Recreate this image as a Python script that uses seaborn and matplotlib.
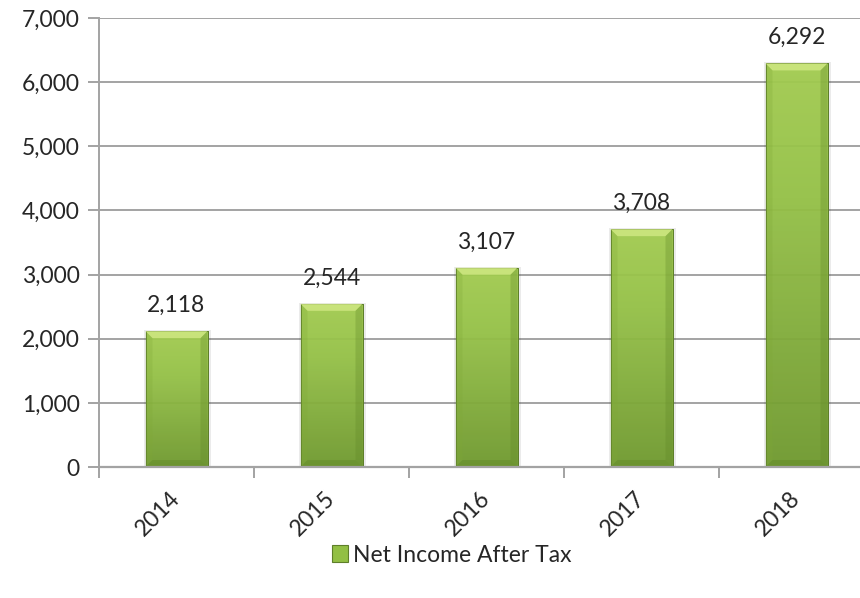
import numpy as np
import pandas as pd
import matplotlib
matplotlib.use("Agg")
import matplotlib.pyplot as plt
import seaborn as sns
from matplotlib.patches import Polygon, Patch
from matplotlib.colors import LinearSegmentedColormap
from matplotlib.ticker import FuncFormatter, FixedLocator

years = ["2014", "2015", "2016", "2017", "2018"]
net_income = [2118, 2544, 3107, 3708, 6292]
series_name = "Net Income After Tax"
y_ticks = [0, 1000, 2000, 3000, 4000, 5000, 6000, 7000]

sns.set_theme(style="white")
plt.rcParams["font.family"] = ["Lato", "DejaVu Sans"]

text_color = "#262626"
grid_color = "#a3a3a3"
bar_green = "#8cb843"
fs = 16.5

df = pd.DataFrame({"Year": years, series_name: net_income})

fig = plt.figure(figsize=(8.6, 5.98), dpi=100)
ax = fig.add_axes([99 / 860, 1 - 467 / 598, 775 / 860, 449 / 598])

sns.barplot(data=df, x="Year", y=series_name, width=0.4, color=bar_green,
            saturation=1, ax=ax, zorder=3)

ax.set_xlim(-0.5, 4.5)
ax.set_ylim(0, 7000)
ax.set_xlabel("")
ax.set_ylabel("")

# vertical green gradient inside each bar, plus soft bevelled edges
grad_cmap = LinearSegmentedColormap.from_list(
    "bar_grad", ["#6f992e", "#82ad3b", "#95c147", "#a2cc50"])
grad = np.linspace(0, 1, 256).reshape(-1, 1)
px_x = 1 / 155.0
px_y = 7000 / 449.0
for patch in ax.patches:
    x0, y0 = patch.get_x(), patch.get_y()
    w, h = patch.get_width(), patch.get_height()
    x1, y1 = x0 + w, y0 + h
    patch.set_facecolor("none")
    patch.set_edgecolor("#5e7f2a")
    patch.set_linewidth(0.7)
    # soft shadow
    shadow = Polygon([(x0 - 2 * px_x, y0), (x1 + 3 * px_x, y0),
                      (x1 + 3 * px_x, y1 + 1 * px_y), (x0 - 2 * px_x, y1 + 1 * px_y)],
                     closed=True, facecolor="#000000", alpha=0.08,
                     edgecolor="none", zorder=2)
    ax.add_patch(shadow)
    im = ax.imshow(grad, cmap=grad_cmap, aspect="auto", origin="lower",
                   extent=(x0, x1, y0, y1), zorder=3, alpha=0.95,
                   interpolation="bicubic")
    im.set_clip_path(patch)
    bx, by = 7 * px_x, 7 * px_y
    top = Polygon([(x0, y1), (x1, y1), (x1 - bx, y1 - by), (x0 + bx, y1 - by)],
                  closed=True, facecolor="#d2e985", edgecolor="none",
                  alpha=0.8, zorder=4)
    left = Polygon([(x0, y1), (x0 + bx, y1 - by), (x0 + bx, y0 + by), (x0, y0)],
                   closed=True, facecolor="#7fa836", edgecolor="none",
                   alpha=0.25, zorder=4)
    right = Polygon([(x1, y1), (x1 - bx, y1 - by), (x1 - bx, y0 + by), (x1, y0)],
                    closed=True, facecolor="#5f8626", edgecolor="none",
                    alpha=0.3, zorder=4)
    bottom = Polygon([(x0, y0), (x0 + bx, y0 + by), (x1 - bx, y0 + by), (x1, y0)],
                     closed=True, facecolor="#5f8626", edgecolor="none",
                     alpha=0.4, zorder=4)
    for p in (top, left, right, bottom):
        ax.add_patch(p)
    ax.add_patch(patch)

# value labels above the bars
for i, v in enumerate(net_income):
    ax.annotate(f"{v:,}", xy=(i, v), xytext=(0, 11), textcoords="offset points",
                ha="center", va="bottom", fontsize=fs, color=text_color,
                zorder=6)

# y axis: grid and labels
ax.yaxis.set_major_locator(FixedLocator(y_ticks))
ax.yaxis.set_major_formatter(FuncFormatter(lambda v, _: f"{int(v):,}"))
ax.grid(axis="y", color=grid_color, linewidth=1.4, zorder=1)
ax.grid(axis="x", visible=False)
ax.set_axisbelow(True)

for side in ("top", "right", "bottom"):
    ax.spines[side].set_visible(False)
ax.spines["left"].set_color(grid_color)
ax.spines["left"].set_linewidth(1.4)
ax.axhline(0, color=grid_color, linewidth=1.6, zorder=5, clip_on=False)

ax.tick_params(axis="y", which="major", length=8, width=1.4, color=grid_color,
               direction="out", labelsize=fs, labelcolor=text_color, pad=6,
               left=True)

# x axis: tick marks on category boundaries, labels rotated
ax.set_xticks(range(len(years)))
ax.set_xticks([i + 0.5 for i in range(-1, len(years))], minor=True)
ax.tick_params(axis="x", which="major", length=0, labelsize=fs,
               labelcolor=text_color, pad=20)
ax.tick_params(axis="x", which="minor", length=8, width=1.4, color=grid_color,
               direction="out", bottom=True)
for lab in ax.get_xticklabels():
    lab.set_rotation(45)
    lab.set_ha("right")
    lab.set_va("center")
    lab.set_rotation_mode("anchor")

handle = Patch(facecolor="#92bf44", edgecolor="#5e7f2a", linewidth=0.8)
fig.legend([handle], [series_name], loc="center", bbox_to_anchor=(0.525, 1 - 555 / 598),
           frameon=False, fontsize=fs, handlelength=0.7, handleheight=0.7,
           handletextpad=0.2, labelcolor=text_color)

fig.savefig("out.png", dpi=100, facecolor="white")
